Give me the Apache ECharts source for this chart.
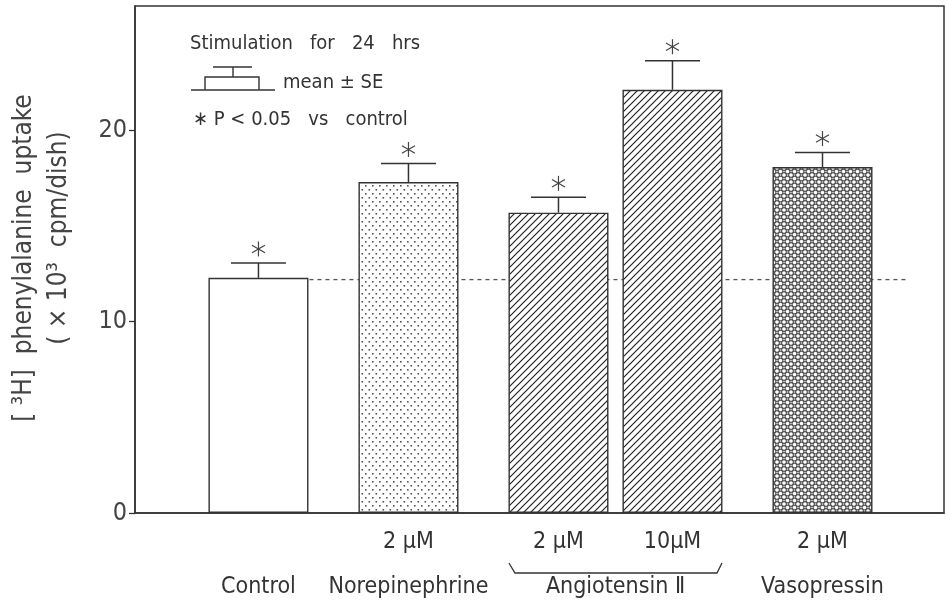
<!DOCTYPE html>
<html>
<head>
<meta charset="utf-8">
<script src="https://cdn.jsdelivr.net/npm/echarts@6/dist/echarts.min.js"></script>
<style>
html,body{margin:0;padding:0;background:#fff;}
#chart{width:948px;height:610px;}
</style>
</head>
<body>
<div id="chart"></div>
<script>
// ---- data ----
const categories = ['Control', 'Norepinephrine 2µM', 'Angiotensin II 2µM', 'Angiotensin II 10µM', 'Vasopressin 2µM'];
const doseLabels = ['', '2 µM', '2 µM', '10µM', '2 µM'];
const groupNames = ['Control', 'Norepinephrine', 'Angiotensin Ⅱ', 'Vasopressin'];
const means = [12.29, 17.3, 15.7, 22.12, 18.08];
const se = [0.78, 0.97, 0.8, 1.52, 0.76];
const significant = [true, true, true, true, true];
const controlLevel = 12.2;
const yTickValues = [0, 10, 20];
const yAxisTitle = ['[ ³H]  phenylalanine  uptake', '( × 10³  cpm/dish)'];
const legendTexts = ['Stimulation   for   24   hrs', 'mean ± SE', '∗ P < 0.05   vs   control'];

// ---- layout (not data) ----
const barSlots = [1, 2, 3, 3.76, 4.76];
const groupSlots = [1, 2, 3.38, 4.76];
const X_MIN = 0.177, X_MAX = 5.57;
const FONT = "'DejaVu Sans Condensed','Liberation Sans Narrow',sans-serif";
const INK = '#333';

function makeCanvas(w, h, draw) {
  const c = document.createElement('canvas');
  c.width = w; c.height = h;
  const ctx = c.getContext('2d');
  ctx.fillStyle = '#fff';
  ctx.fillRect(0, 0, w, h);
  draw(ctx);
  return c;
}
const dotPattern = makeCanvas(7, 8, ctx => {
  ctx.fillStyle = '#555';
  ctx.fillRect(1, 1, 1.6, 1.6);
  ctx.fillRect(4.5, 5, 1.6, 1.6);
});
const hatchPattern = makeCanvas(7, 7, ctx => {
  ctx.strokeStyle = '#222';
  ctx.lineWidth = 1.2;
  ctx.beginPath();
  ctx.moveTo(-1, 8); ctx.lineTo(8, -1);
  ctx.moveTo(-1, 1); ctx.lineTo(1, -1);
  ctx.moveTo(6, 8); ctx.lineTo(8, 6);
  ctx.stroke();
});
const meshPattern = makeCanvas(7, 7, ctx => {
  ctx.strokeStyle = '#555';
  ctx.lineWidth = 1.1;
  const pts = [[0,0],[7,0],[0,7],[7,7],[3.5,3.5]];
  pts.forEach(p => { ctx.beginPath(); ctx.arc(p[0], p[1], 2.4, 0, Math.PI * 2); ctx.stroke(); });
});
const fills = ['#fff',
  {image: dotPattern, repeat: 'repeat'},
  {image: hatchPattern, repeat: 'repeat'},
  {image: hatchPattern, repeat: 'repeat'},
  {image: meshPattern, repeat: 'repeat'}];

const barData = means.map((m, i) => ({
  value: [barSlots[i], m],
  itemStyle: {color: fills[i], borderColor: INK, borderWidth: 1.4}
}));
const errData = means.map((m, i) => [barSlots[i], m, m + se[i], significant[i] ? 1 : 0]);
const refLine = [[1.34, controlLevel], [5.34, controlLevel]];

const chart = echarts.init(document.getElementById('chart'), null, {renderer: 'canvas'});

const option = {
  backgroundColor: '#fff',
  animation: false,
  grid: {left: 135, right: 4, top: 6, bottom: 97, show: true, borderColor: INK, borderWidth: 1.5, backgroundColor: 'transparent'},
  xAxis: [{
    type: 'value', min: X_MIN, max: X_MAX,
    splitLine: {show: false},
    axisLine: {show: true, lineStyle: {color: INK, width: 1.5}},
    axisTick: {show: false},
    axisLabel: {
      customValues: barSlots,
      formatter: v => { const i = barSlots.indexOf(v); return i >= 0 ? doseLabels[i] : ''; },
      margin: 18, fontSize: 23, color: INK, fontFamily: FONT
    }
  }, {
    type: 'value', min: X_MIN, max: X_MAX, position: 'bottom',
    splitLine: {show: false},
    axisLine: {show: false},
    axisTick: {show: false},
    axisLabel: {
      customValues: groupSlots,
      formatter: v => { const i = groupSlots.indexOf(v); return i >= 0 ? groupNames[i] : ''; },
      margin: 63, fontSize: 23, color: INK, fontFamily: FONT
    }
  }],
  yAxis: {
    type: 'value', min: 0, max: 26.5, interval: 10,
    splitLine: {show: false},
    axisLine: {show: true, lineStyle: {color: INK, width: 1.5}},
    axisTick: {show: true, length: 6, lineStyle: {color: INK, width: 1.3}, customValues: yTickValues},
    axisLabel: {customValues: yTickValues, fontSize: 25, color: '#444', fontFamily: FONT, margin: 8}
  },
  series: [{
    type: 'line', data: refLine, z: 1, symbol: 'none', silent: true,
    lineStyle: {type: [4, 4], color: '#555', width: 1.3}
  }, {
    type: 'bar', data: barData, barWidth: 100, z: 3
  }, {
    type: 'custom', z: 4, data: errData,
    renderItem: (params, api) => {
      const x = api.value(0);
      const top = api.coord([x, api.value(1)]);
      const hi = api.coord([x, api.value(2)]);
      const style = {stroke: INK, lineWidth: 1.5};
      const children = [
        {type: 'line', shape: {x1: top[0], y1: top[1], x2: hi[0], y2: hi[1]}, style},
        {type: 'line', shape: {x1: hi[0] - 27.5, y1: hi[1], x2: hi[0] + 27.5, y2: hi[1]}, style}
      ];
      if (api.value(3)) {
        const cx = hi[0], cy = hi[1] - 14, r = 7.5;
        [90, 30, 150].forEach(a => {
          const rad = a * Math.PI / 180;
          children.push({type: 'line', shape: {x1: cx - r * Math.cos(rad), y1: cy - r * Math.sin(rad), x2: cx + r * Math.cos(rad), y2: cy + r * Math.sin(rad)}, style: {stroke: '#444', lineWidth: 1.2}});
        });
      }
      return {type: 'group', children};
    }
  }]
};
chart.setOption(option);

// brace under Angiotensin II doses, legend, y-axis title
const bl = chart.convertToPixel({xAxisIndex: 0}, barSlots[2] - 0.33);
const br = chart.convertToPixel({xAxisIndex: 0}, barSlots[3] + 0.33);
const txt = {fontSize: 20, fill: INK, fontFamily: FONT, verticalAlign: 'middle'};
chart.setOption({
  graphic: [
    {type: 'polyline', shape: {points: [[bl, 563], [bl + 6, 573], [br - 5, 573], [br, 563]]}, style: {stroke: INK, lineWidth: 1.3, fill: null}},
    {type: 'text', x: 24, y: 258, rotation: Math.PI / 2, style: {text: yAxisTitle[0], fontSize: 26, fill: '#444', fontFamily: FONT, align: 'center', verticalAlign: 'middle'}},
    {type: 'text', x: 59, y: 238, rotation: Math.PI / 2, style: {text: yAxisTitle[1], fontSize: 26, fill: '#444', fontFamily: FONT, align: 'center', verticalAlign: 'middle'}},
    {type: 'text', x: 190, y: 44, style: Object.assign({text: legendTexts[0]}, txt)},
    {type: 'text', x: 283, y: 83, style: Object.assign({text: legendTexts[1]}, txt)},
    {type: 'text', x: 193, y: 120, style: Object.assign({text: legendTexts[2]}, txt)},
    {type: 'line', shape: {x1: 191, y1: 90, x2: 275, y2: 90}, style: {stroke: INK, lineWidth: 1.4}},
    {type: 'polyline', shape: {points: [[205, 90], [205, 77], [259, 77], [259, 90]]}, style: {stroke: INK, lineWidth: 1.4, fill: null}},
    {type: 'line', shape: {x1: 233, y1: 77, x2: 233, y2: 67}, style: {stroke: INK, lineWidth: 1.4}},
    {type: 'line', shape: {x1: 213, y1: 67, x2: 252, y2: 67}, style: {stroke: INK, lineWidth: 1.4}}
  ]
});
</script>
</body>
</html>
